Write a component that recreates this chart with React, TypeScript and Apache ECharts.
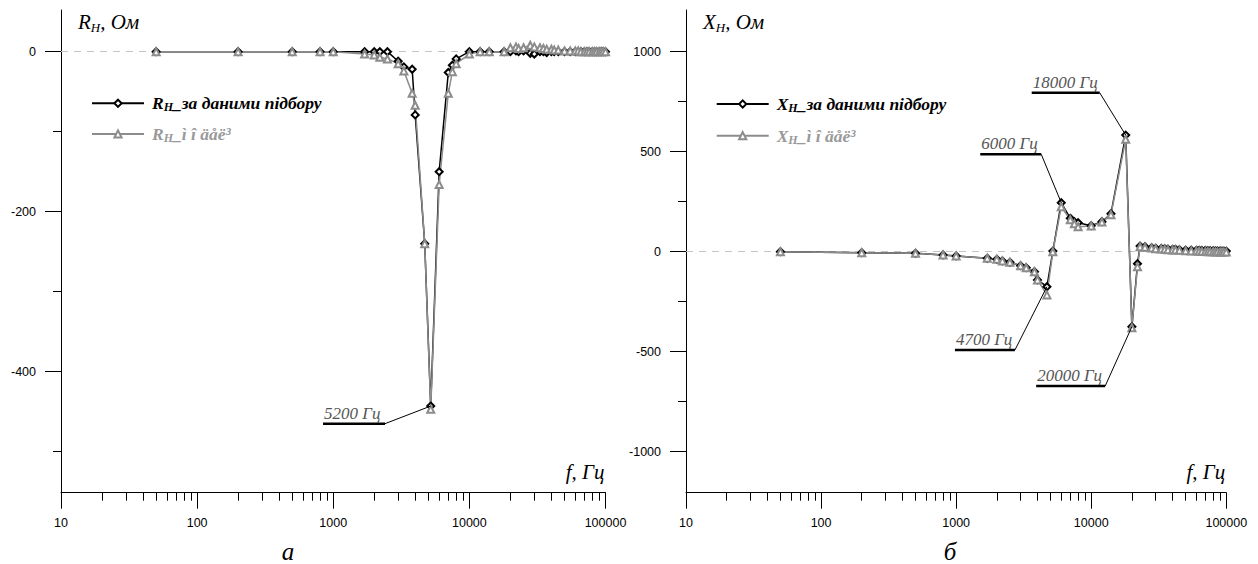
import React, { useEffect, useRef } from 'react';
import * as echarts from 'echarts';

// ---------------- data ----------------
const freqs = [50, 200, 500, 800, 1000, 1700, 2000, 2200, 2500, 3000, 3300, 3800, 4000, 4700, 5200, 6000, 7000, 7500, 8000, 10000, 12000, 14000, 18000, 20000, 22000, 23000, 25000, 28000, 30000, 33000, 35000, 37000, 40000, 42000, 45000, 50000, 55000, 60000, 63000, 66000, 70000, 73000, 76000, 80000, 83000, 86000, 90000, 93000, 96000, 100000];

const rFit = [0, 0, 0, 0, 0, 0, 0, 0, 0, -12, -19, -22, -79, -240, -443, -150, -26, -17, -9, 0, 0, 0, 0, 0, 1, 0, 1, -2, -3, 0, 0, -1, 0, 0, 0, 0, 0, 0, 0, 0, 0, 0, 0, 0, 0, 0, 0, 0, 0, 0];
const rModel = [0, 0, 0, 0, 0, -3, -4, -7, -9, -15, -24, -52, -67, -240, -447, -166, -52, -25, -15, -3, 0, 0, 0, 5, 6, 4, 5, 8, 6, 5, 4, 3, 3, 2, 2, 1, 1, 1, 1, 0, 0, 0, 0, 0, 0, 0, 0, 0, 0, 0];

const xFit = [0, -5, -8, -16, -21, -33, -38, -46, -53, -70, -80, -100, -141, -175, 3, 245, 167, 150, 145, 130, 150, 190, 583, -375, -60, 28, 25, 20, 17, 16, 15, 13, 12, 12, 10, 8, 8, 7, 7, 6, 6, 5, 5, 5, 4, 4, 4, 3, 3, 3];
const xModel = [0, -5, -8, -16, -21, -33, -38, -46, -53, -70, -80, -100, -141, -216, 0, 225, 160, 140, 125, 128, 148, 185, 562, -380, -75, 25, 22, 18, 15, 13, 12, 10, 9, 8, 7, 5, 4, 3, 2, 1, 1, 0, 0, 0, -1, -1, -1, -2, -2, -2];

const freqMajor = [10, 100, 1000, 10000, 100000];
const freqMinor = [20, 30, 40, 50, 60, 70, 80, 90, 200, 300, 400, 500, 600, 700, 800, 900, 2000, 3000, 4000, 5000, 6000, 7000, 8000, 9000, 20000, 30000, 40000, 50000, 60000, 70000, 80000, 90000];

const rMajorTicks = [0, -200, -400];
const rMinorTicks = [-100, -300, -500];
const xMajorTicks = [1000, 500, 0, -500, -1000];
const xMinorTicks = [750, 250, -250, -750];

const nameRFit = 'Rн_за даними підбору';
const nameRModel = 'Rн_ì î äåë³';
const nameXFit = 'Xн_за даними підбору';
const nameXModel = 'Xн_ì î äåë³';

// annotations: [label, chart (0 left, 1 right), series values, freq, bar-end dx, dy, bar length]
const annotations: [string, number, number[], number, number, number, number][] = [
  ['5200 Гц', 0, rFit, 5200, -45.7, 17.6, 62],
  ['18000 Гц', 1, xFit, 18000, -26, -42.3, 68],
  ['6000 Гц', 1, xFit, 6000, -20, -48.4, 61],
  ['4700 Гц', 1, xFit, 4700, -32, 63.3, 60],
  ['20000 Гц', 1, xFit, 20000, -26.7, 59.3, 69],
];

// ---------------- styling ----------------
const serif = '"Liberation Serif", "Times New Roman", serif';
const sans = '"Liberation Sans", Arial, sans-serif';
const BLACK = '#000';
const GRAY = '#8c8c8c';

const lg = (v: number) => Math.log10(v);
const pts = (vals: number[]) => freqs.map((f, i) => [lg(f), vals[i]]);

const nameRich: any = {
  i: { fontFamily: serif, fontStyle: 'italic', fontSize: 21, color: '#000', lineHeight: 24 },
  s: { fontFamily: serif, fontStyle: 'italic', fontSize: 13, color: '#000', lineHeight: 10, verticalAlign: 'bottom' },
};

const legRich: any = {
  b: { fontFamily: serif, fontStyle: 'italic', fontWeight: 'bold', fontSize: 17.5, color: '#000', lineHeight: 20 },
  bs: { fontFamily: serif, fontStyle: 'italic', fontWeight: 'bold', fontSize: 12, color: '#000', lineHeight: 8, verticalAlign: 'bottom' },
  g: { fontFamily: serif, fontStyle: 'italic', fontWeight: 'bold', fontSize: 17.5, color: '#999', lineHeight: 20 },
  gs: { fontFamily: serif, fontStyle: 'italic', fontWeight: 'bold', fontSize: 12, color: '#999', lineHeight: 8, verticalAlign: 'bottom' },
};

const legFormatter = (name: string) => {
  const gray = name.indexOf('ì') >= 0;
  const m = gray ? 'g' : 'b';
  const s = gray ? 'gs' : 'bs';
  return `{${m}|${name[0]}}{${s}|Н}{${m}|${name.slice(2)}}`;
};

function xAxes(grid: number) {
  const major = {
    type: 'value', gridIndex: grid, min: 1, max: 5, position: 'bottom',
    axisLine: { show: true, onZero: false, lineStyle: { color: '#000', width: 1 } },
    axisTick: { show: true, customValues: freqMajor.map(lg), length: 16, lineStyle: { color: '#000', width: 1 } },
    axisLabel: {
      show: true, customValues: freqMajor.map(lg), margin: 24, color: '#000', fontFamily: sans, fontSize: 12.5,
      formatter: (v: number) => String(Math.round(Math.pow(10, v))),
    },
    splitLine: { show: false },
    name: 'f, Гц', nameLocation: 'end', nameGap: -1,
    nameTextStyle: { fontFamily: serif, fontStyle: 'italic', fontSize: 21, color: '#000', align: 'right', verticalAlign: 'bottom', padding: [0, 0, 10, 0] },
  };
  const minor = {
    type: 'value', gridIndex: grid, min: 1, max: 5, position: 'bottom',
    axisLine: { show: false, onZero: false },
    axisTick: { show: true, customValues: freqMinor.map(lg), length: 8, lineStyle: { color: '#000', width: 1 } },
    axisLabel: { show: false },
    splitLine: { show: false },
  };
  return [major, minor];
}

function yAxes(grid: number, min: number, max: number, majors: number[], minors: number[], letter: string) {
  const major = {
    type: 'value', gridIndex: grid, min, max, position: 'left',
    axisLine: { show: true, onZero: false, lineStyle: { color: '#000', width: 1 } },
    axisTick: { show: true, customValues: majors, length: 16, lineStyle: { color: '#000', width: 1 } },
    axisLabel: {
      show: true, customValues: majors, margin: 25, color: '#000', fontFamily: sans, fontSize: 12.5,
      formatter: (v: number) => String(v),
    },
    splitLine: { show: false },
    name: `{i|${letter}}{s|Н}{i|, Ом}`, nameLocation: 'end', nameGap: 0,
    nameTextStyle: { align: 'left', verticalAlign: 'top', padding: [0, 0, 0, 17], rich: nameRich },
  };
  const minor = {
    type: 'value', gridIndex: grid, min, max, position: 'left',
    axisLine: { show: false, onZero: false },
    axisTick: { show: true, customValues: minors, length: 8, lineStyle: { color: '#000', width: 1 } },
    axisLabel: { show: false },
    splitLine: { show: false },
  };
  return [major, minor];
}

function lineSeries(name: string, vals: number[], axis: number, fit: boolean, zeroLine: boolean) {
  const s: any = {
    type: 'line', name, data: pts(vals), xAxisIndex: axis, yAxisIndex: axis,
    symbol: fit ? 'emptyDiamond' : 'emptyTriangle', symbolSize: 7,
    showAllSymbol: true,
    lineStyle: { color: fit ? BLACK : GRAY, width: 1.5 },
    itemStyle: { color: fit ? BLACK : GRAY, borderWidth: 1.3 },
    z: 3, silent: true,
  };
  if (zeroLine) {
    s.markLine = {
      silent: true, z: 1, symbol: ['none', 'none'], label: { show: false },
      lineStyle: { color: '#c4c4c4', type: [7, 6], width: 1 },
      data: [{ yAxis: 0 }],
    };
  }
  return s;
}

export default function App() {
  const ref = useRef<HTMLDivElement>(null);
  useEffect(() => {
    const chart = echarts.init(ref.current!, null, { renderer: 'svg' });
    const option: any = {
      animation: false,
      backgroundColor: '#fff',
      grid: [
        { left: 61, right: 652.5, top: 10, bottom: 71.3 },
        { left: 686, right: 31.7, top: 10, bottom: 71.3 },
      ],
      xAxis: [...xAxes(0), ...xAxes(1)],
      yAxis: [
        ...yAxes(0, -551.3, 52.1, rMajorTicks, rMinorTicks, 'R'),
        ...yAxes(1, -1205, 1208.5, xMajorTicks, xMinorTicks, 'X'),
      ],
      legend: [
        {
          data: [nameRFit, nameRModel], orient: 'vertical', left: 86, top: 89.3,
          itemWidth: 52, itemHeight: 9, itemGap: 11.7, formatter: legFormatter,
          textStyle: { rich: legRich, padding: [0, 0, 0, 3] }, selectedMode: false,
        },
        {
          data: [nameXFit, nameXModel], orient: 'vertical', left: 710.7, top: 90,
          itemWidth: 52, itemHeight: 9, itemGap: 12.7, formatter: legFormatter,
          textStyle: { rich: legRich, padding: [0, 0, 0, 3] }, selectedMode: false,
        },
      ],
      series: [
        lineSeries(nameRFit, rFit, 0, true, true),
        lineSeries(nameRModel, rModel, 0, false, false),
        lineSeries(nameXFit, xFit, 2, true, true),
        lineSeries(nameXModel, xModel, 2, false, false),
      ],
    };
    chart.setOption(option);

    const graphics: any[] = [];
    annotations.forEach(([label, ci, vals, f, dx, dy, len]) => {
      const idx = freqs.indexOf(f);
      const ax = ci === 0 ? 0 : 2;
      const p = chart.convertToPixel({ xAxisIndex: ax, yAxisIndex: ax } as any, [lg(f), vals[idx]]) as number[];
      const bx2 = p[0] + dx;
      const by = p[1] + dy;
      const bx1 = bx2 - len;
      graphics.push(
        { type: 'line', silent: true, shape: { x1: bx2, y1: by, x2: p[0], y2: p[1] }, style: { stroke: '#000', lineWidth: 1 }, z: 10 },
        { type: 'line', silent: true, shape: { x1: bx1, y1: by, x2: bx2, y2: by }, style: { stroke: '#000', lineWidth: 2.5 }, z: 10 },
        { type: 'text', silent: true, x: bx1 + 1, y: by - 2, style: { text: label, fontFamily: serif, fontStyle: 'italic', fontSize: 17, fill: '#555', textAlign: 'left', textVerticalAlign: 'bottom' }, z: 10 },
      );
    });
    graphics.push(
      { type: 'text', silent: true, x: 288, y: 551, style: { text: 'а', fontFamily: serif, fontStyle: 'italic', fontSize: 25, fill: '#000', textAlign: 'center', textVerticalAlign: 'middle' } },
      { type: 'text', silent: true, x: 950, y: 551, style: { text: 'б', fontFamily: serif, fontStyle: 'italic', fontSize: 25, fill: '#000', textAlign: 'center', textVerticalAlign: 'middle' } },
    );
    chart.setOption({ graphic: graphics });

    return () => chart.dispose();
  }, []);
  return <div ref={ref} style={{ position: 'fixed', left: 0, top: 0, width: 1258, height: 564, background: '#fff' }} />;
}
